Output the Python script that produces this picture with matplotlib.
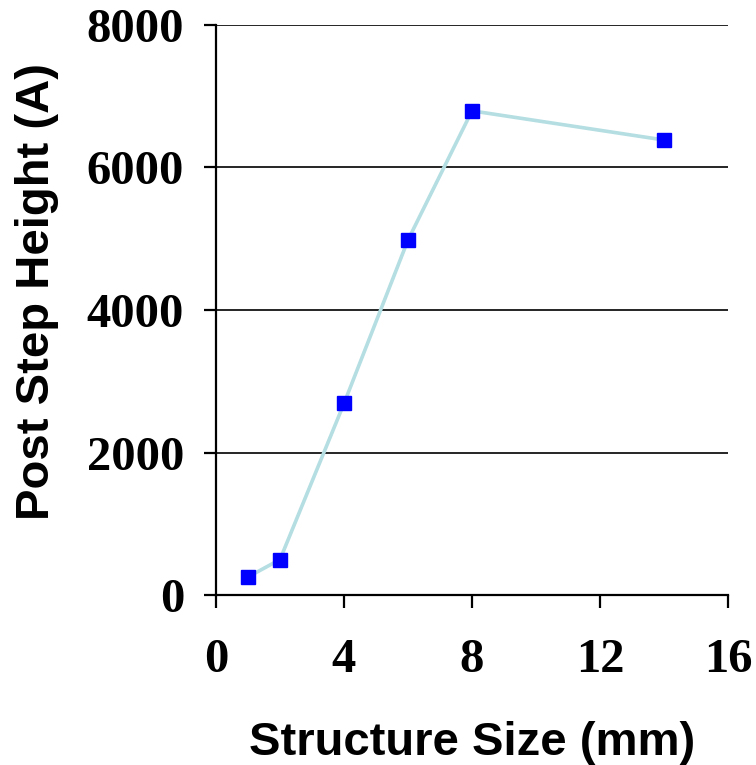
import matplotlib
matplotlib.use("Agg")
import matplotlib.pyplot as plt

size_mm = [1, 2, 4, 6, 8, 14]
step_height = [253, 498, 2688, 4982, 6795, 6386]
x_ticks = [0, 4, 8, 12, 16]
y_ticks = [0, 2000, 4000, 6000, 8000]

fig = plt.figure(figsize=(7.56, 7.65), dpi=100)
ax = fig.add_axes([216 / 756, 1 - 595 / 765, (728 - 216) / 756, (595 - 25) / 765])

ax.plot(size_mm, step_height, color='#B4DEE2', lw=2.6, zorder=3)
ax.plot(size_mm, step_height, ls='none', marker='s', ms=10.5, mfc='#0000FF', mec='#0000FF', zorder=4)

ax.set_xlim(0, 16)
ax.set_ylim(0, 8000)
ax.set_xticks(x_ticks)
ax.set_yticks(y_ticks)
ax.yaxis.grid(True, color='black', lw=1.2)
ax.set_axisbelow(True)

for s in ['top', 'right']:
    ax.spines[s].set_visible(False)
for s in ['left', 'bottom']:
    ax.spines[s].set_linewidth(1.6)

ax.tick_params(direction='out', length=9, width=1.6)
ax.tick_params(axis='x', pad=22)
ax.tick_params(axis='y', pad=14)
for lab in ax.get_xticklabels() + ax.get_yticklabels():
    lab.set_fontfamily('Liberation Serif')
    lab.set_fontweight('bold')
    lab.set_fontsize(35)

ax.set_xlabel('Structure Size (mm)', fontfamily='Liberation Sans', fontweight='bold', fontsize=34, labelpad=28)
ax.set_ylabel('Post Step Height (A)', fontfamily='Liberation Sans', fontweight='bold', fontsize=34)
# label sits a bit above the axes centre in the original
ax.yaxis.set_label_coords(-0.306, 0.532)

plt.savefig('out.png', dpi=100)
